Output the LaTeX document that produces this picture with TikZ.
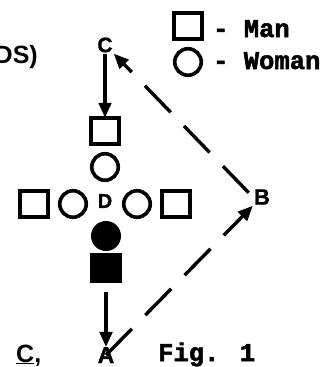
\documentclass[tikz,border=0pt]{standalone}
\usepackage{fontspec}
\setmainfont{Liberation Sans}
\newfontfamily\heavysans[UprightFont={* Bold}, FakeBold=1.2]{Liberation Sans}
\newfontfamily\heavytw[UprightFont={* Bold}, FakeBold=2]{Liberation Mono}
\usetikzlibrary{arrows.meta}

\begin{document}
\begin{tikzpicture}[x=1pt, y=-1pt,
  shp/.style={line width=3.6pt, inner sep=0pt, outer sep=0pt},
  man/.style={shp, draw, rectangle, minimum width=28.5pt, minimum height=26.5pt},
  woman/.style={shp, draw, circle, minimum size=26.5pt},
  fman/.style={shp, fill, rectangle, minimum width=32pt, minimum height=30pt},
  fwoman/.style={shp, fill, circle, minimum size=30pt},
  letter/.style={inner sep=1pt, font=\heavysans\fontsize{21}{21}\selectfont},
  prose/.style={inner sep=0pt, font=\bfseries\fontsize{25}{25}\selectfont},
  typed/.style={inner sep=0pt, anchor=base west, font=\heavytw\fontsize{25.5}{25.5}\selectfont},
  tip/.style={-{Triangle[length=15pt,width=12.5pt]}},
  solidarrow/.style={tip, line width=3.4pt},
  dasharrow/.style={tip, line width=3.4pt, dash pattern=on 37pt off 19pt}
]
\useasboundingbox (0,0) rectangle (322,367);

% text running past the left margin
\node[prose, anchor=base east] (ds) at (38,63) {DS)};
\node[prose, anchor=base west] (cc) at (16,362) {\underline{C},};

% legend
\node[man] (lman) at (188,26) {};
\node[woman] (lwoman) at (188,62) {};
\node[typed] (tman) at (213,37) {- Man};
\node[typed] (twoman) at (213,69) {- Woman};

% kin chart
\node[letter] (C) at (105,45) {C};
\node[man] (sq1) at (105,131) {};
\node[woman] (ci1) at (105,167) {};
\node[man] (sqL) at (34,204) {};
\node[woman] (ciL) at (73,204) {};
\node[letter, font=\heavysans\fontsize{20}{20}\selectfont] (D) at (105,201) {D};
\node[woman] (ciR) at (137,204) {};
\node[man] (sqR) at (176,204) {};
\node[fwoman] (fci) at (106,236) {};
\node[fman] (fsq) at (106,268) {};
\node[letter, inner sep=0pt, anchor=base, font=\heavysans\fontsize{23}{23}\selectfont] (A) at (106,363) {A};
\node[letter, font=\heavysans\fontsize{22}{22}\selectfont] (B) at (262,197) {B};

% connectors
\draw[solidarrow] (C) -- (sq1);
\draw[solidarrow, shorten <=9pt] (fsq) -- (A.north);
\draw[dasharrow, shorten <=6pt] (B.west) -- (C.south east);
\draw[dasharrow] (A.center) -- (B.south west);

% caption
\node[typed] (fig) at (158,361) {Fig. 1};
\end{tikzpicture}
\end{document}
